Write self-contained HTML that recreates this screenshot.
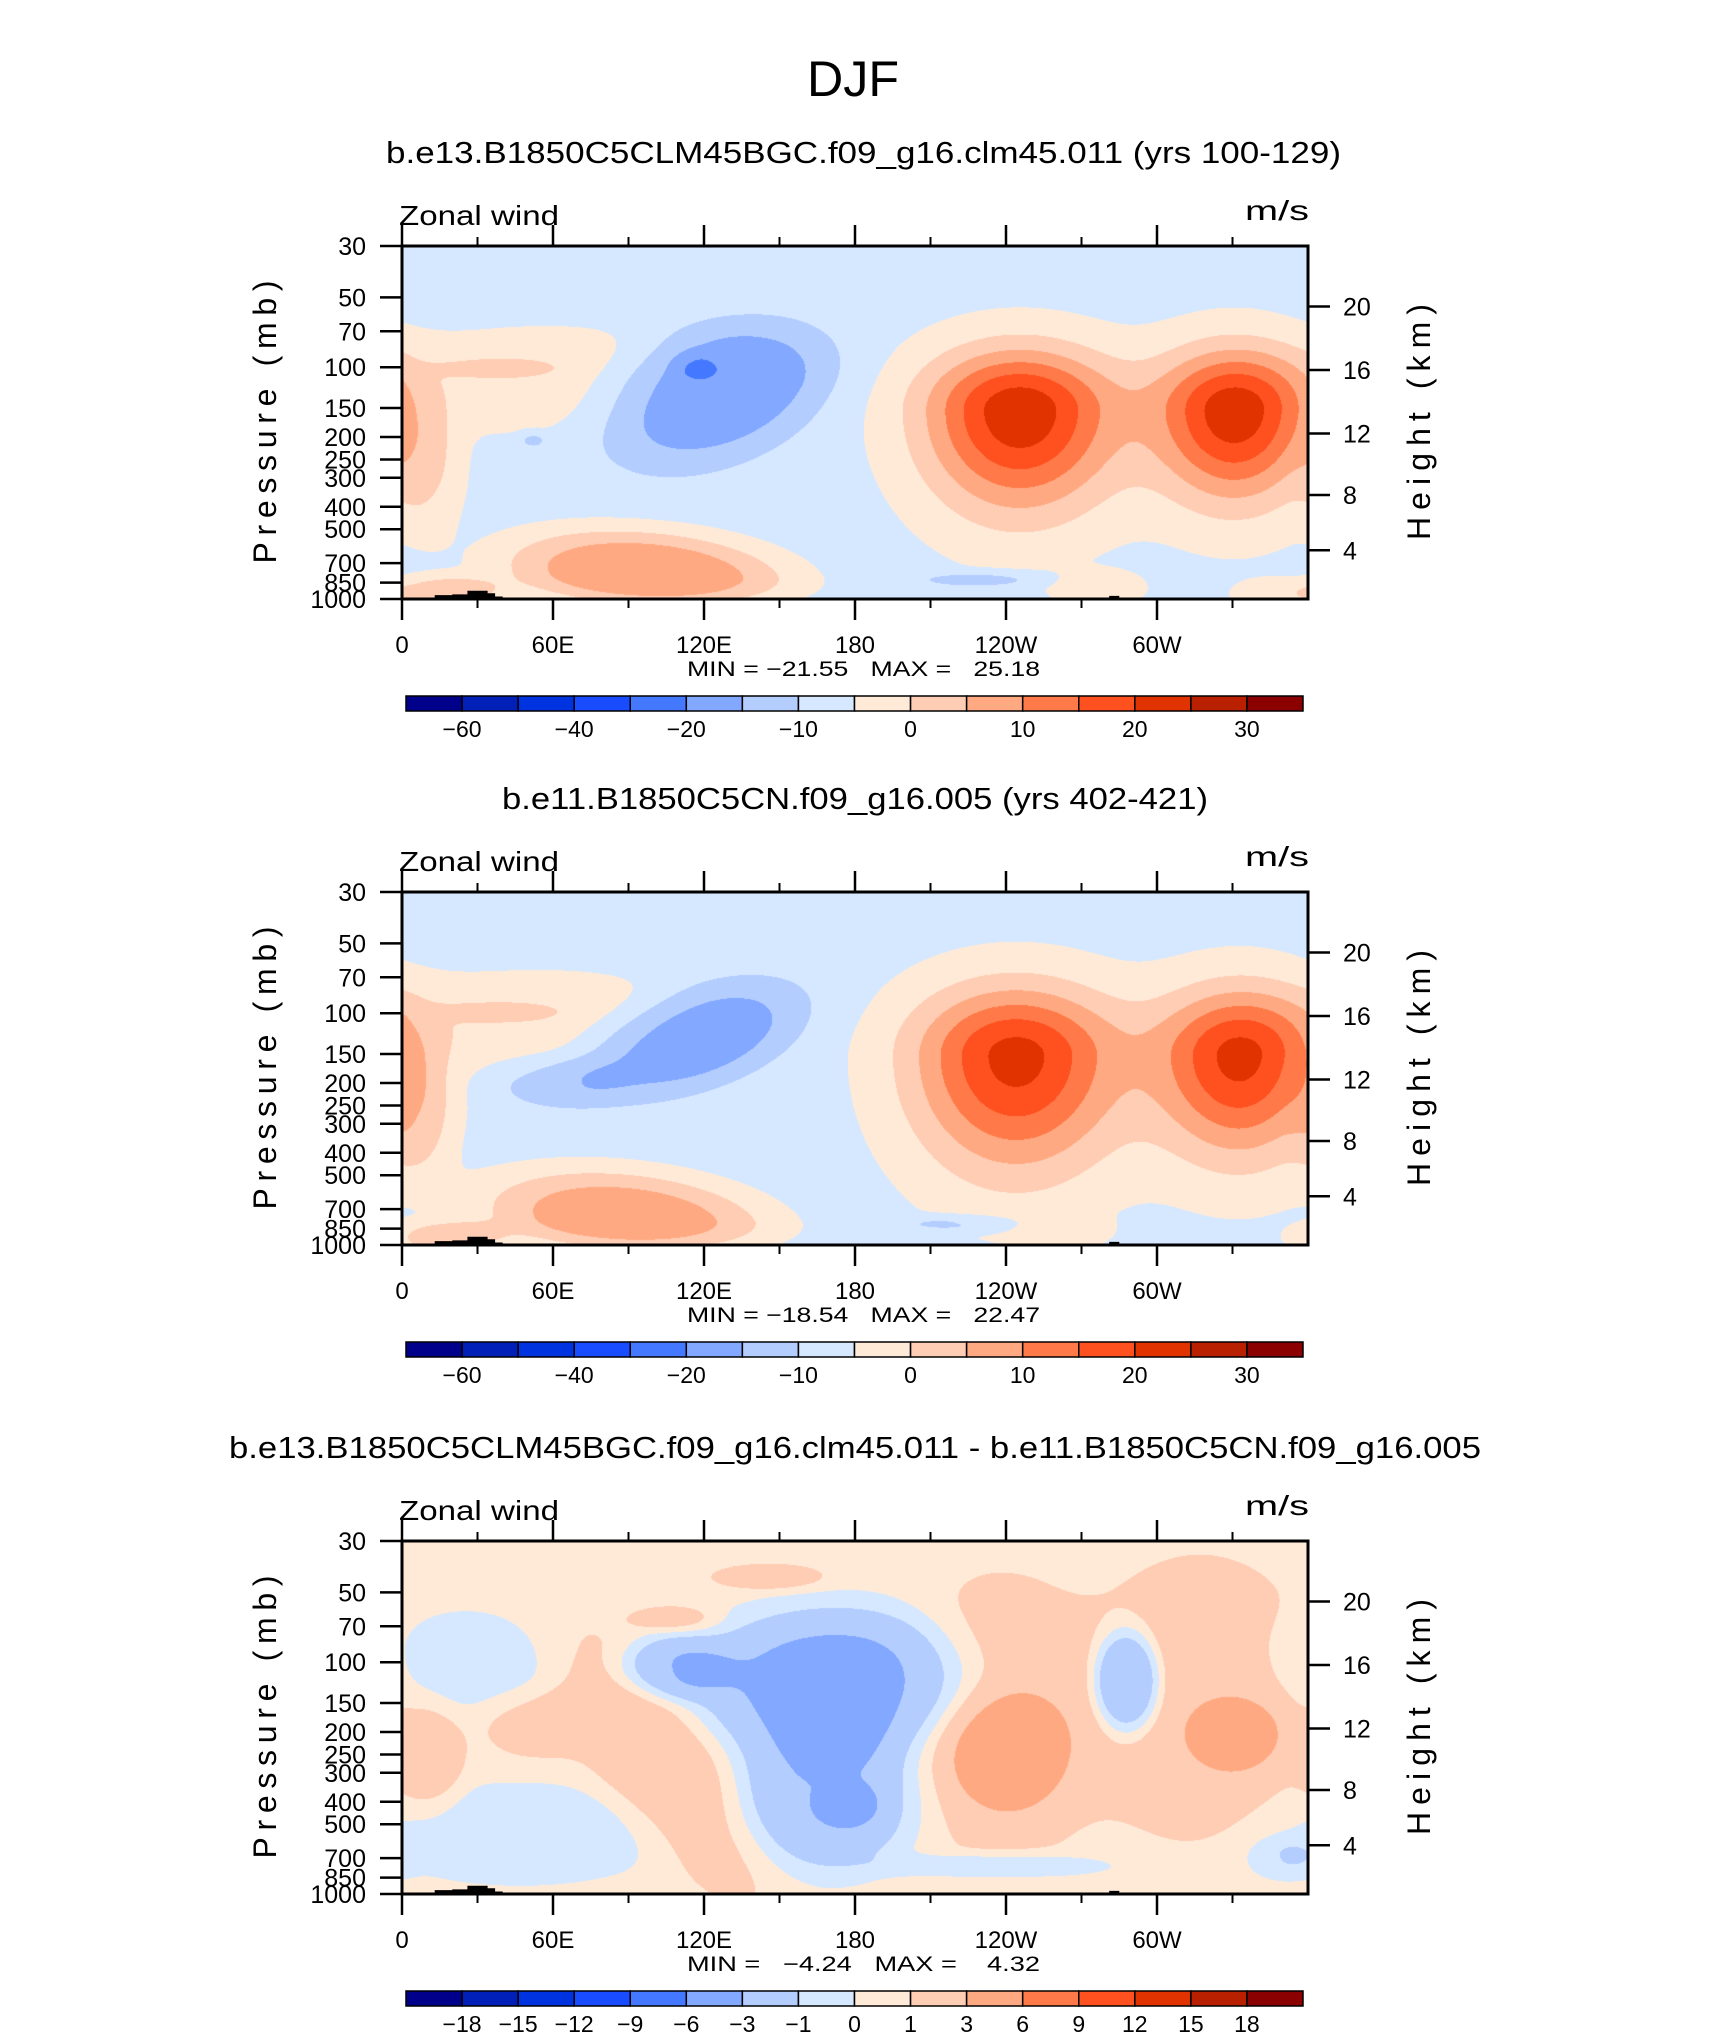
<!DOCTYPE html>
<html><head><meta charset="utf-8">
<style>
html,body{margin:0;padding:0;background:#fff;}
#wrap{position:relative;width:1710px;height:2038px;overflow:hidden;background:#fff;}
canvas{position:absolute;z-index:0;}
svg{position:absolute;left:0;top:0;z-index:1;}
text{font-family:"Liberation Sans",sans-serif;fill:#000;}
</style></head>
<body>
<div id="wrap">
<svg id="svg" width="1710" height="2038" xmlns="http://www.w3.org/2000/svg">
<text x="853" y="96" font-size="50" text-anchor="middle" textLength="92" lengthAdjust="spacingAndGlyphs">DJF</text>
</svg>
</div>
<script>
// ---------- data ----------
const levelsMain = [-60,-50,-40,-30,-20,-15,-10,-5,0,5,10,15,20,25,30];
const levelsDiff = [-18,-15,-12,-9,-6,-3,-1,0,1,3,6,9,12,15,18];
const labelsMain = ["-60","","-40","","-20","","-10","","0","","10","","20","","30"];
const labelsDiff = ["-18","-15","-12","-9","-6","-3","-1","0","1","3","6","9","12","15","18"];
const colors = ["#00008a","#0020b8","#0033e0","#1a4cff","#4479ff","#82a8ff","#b3cdff","#d6e8ff","#ffead8","#ffcdb4","#ffa982","#ff7a48","#ff5020","#e03300","#b82000","#8b0000"];
const pressureTicks = [30,50,70,100,150,200,250,300,400,500,700,850,1000];
const heightTicks = [4,8,12,16,20];
const lonMajor = [0,60,120,180,240,300];
const lonMajorLabels = ["0","60E","120E","180","120W","60W"];
const lonMinor = [30,90,150,210,270,330];
const topoLon = [0,8,8,13,13,20,20,26,26,34,34,37,37,40,40,112,112,177,177,281,281,285,285,311,311,360];
const topoP   = [1000,1000,985,985,962,962,955,955,922,922,945,945,975,975,1000,1000,988,988,1000,1000,970,970,988,988,1000,1000];

// panel 1 field features
const p1Base = -7;
const p1Lon  = [245.5,331,125,116,52,58,39,11,97,18,230,277,346];
const p1Pres = [154,154,120,100,206,102,101,293,782,932,825,900,966];
const p1Amp  = [31,30.5,-13.5,-3.5,-5,5,4,5,17,9,-5.5,6,4];
const p1SLon = [27,22,34,7,5,49,20,11,43,18,22,14,14];
const p1SUp  = [0.125,0.125,0.14,0.035,0.02,0.1,0.025,0.15,0.1,0.04,0.02,0.04,0.04];
const p1SDn  = [0.2,0.18,0.18,0.03,0.02,0.15,0.025,0.15,0.07,0.04,0.02,0.04,0.04];
const p1Tilt = [0,0,70,0,0,0,0,0,-100,0,0,0,0];
const p1Q    = [1,1,1.5,1.5,1.5,1.5,1.5,1.5,1.5,1.5,1.5,1.5,1.5];

// panel 2 field features
const p2Base = -7;
const p2Lon  = [244,333,114,60,55,40,8,89,18,221,263];
const p2Pres = [153,153,130,199,100,99,293,774,932,810,869];
const p2Amp  = [29,28.5,-12.5,-5,5,4,5,16,9,-5.5,4];
const p2SLon = [29,23,31,22,49,20,11,43,18,20,14];
const p2SUp  = [0.14,0.135,0.13,0.06,0.1,0.025,0.15,0.11,0.04,0.02,0.04];
const p2SDn  = [0.23,0.2,0.13,0.06,0.14,0.025,0.15,0.07,0.04,0.02,0.04];
const p2Tilt = [0,0,130,0,0,0,0,-100,0,0,0];
const p2Q    = [1,1,1.5,1.5,1.5,1.5,1.5,1.5,1.5,1.5,1.5];

// panel 3 (difference) field features
const p3Base = 0.5;
const p3Lon  = [173,169,108,22,47,101,54,11,288,241,238,331,317,146,108,238,350,178];
const p3Pres = [122,375,106,99,551,264,186,264,122,246,173,206,145,43,65,755,700,416];
const p3Amp  = [-4.7,-3.3,-3,-1.2,-1.25,1.8,1.2,1.5,-4.8,3.5,1.8,3.2,1.8,1.5,1.3,-1.5,-1.2,-1.6];
const p3SLon = [43,29,18,40,50,22,18,11,11,18,32,14,36,18,14,36,12,10];
const p3SUp  = [0.16,0.17,0.07,0.12,0.12,0.3,0.08,0.12,0.12,0.13,0.3,0.08,0.3,0.03,0.03,0.03,0.05,0.05];
const p3SDn  = [0.16,0.17,0.07,0.12,0.12,0.3,0.08,0.12,0.12,0.13,0.3,0.08,0.3,0.03,0.03,0.03,0.05,0.05];
const p3Tilt = [0,0,0,0,0,-86,0,0,0,0,0,0,0,0,0,0,0,0];
const p3Q    = [1.5,1.5,1.5,1.5,1.5,1.5,1.5,1.5,1.5,1.5,1.5,1.5,1.5,1.5,1.5,1.5,1.5,1.5];

const titles = ["b.e13.B1850C5CLM45BGC.f09_g16.clm45.011 (yrs 100-129)","b.e11.B1850C5CN.f09_g16.005 (yrs 402-421)","b.e13.B1850C5CLM45BGC.f09_g16.clm45.011 - b.e11.B1850C5CN.f09_g16.005"];
const minmax = ["MIN = \u221221.55   MAX =   25.18","MIN = \u221218.54   MAX =   22.47","MIN =   \u22124.24   MAX =    4.32"];

// ---------- layout ----------
const PL=402, PW=906, PH=353;
const tops=[246,892,1541];
const NS="http://www.w3.org/2000/svg";
const svg=document.getElementById('svg');
const wrap=document.getElementById('wrap');
const LOGR=Math.log(1000/30);
function yFrac(p){return Math.log(p/30)/LOGR;}
function xOf(lon){return PL+lon/360*PW;}
function stdP(hkm){const h=hkm*1000; if(h<=11000) return 1013.25*Math.pow(1-2.25577e-5*h,5.25588); return 226.32*Math.exp(-(h-11000)/6341.6);}
function mk(tag,attrs,parent){const e=document.createElementNS(NS,tag);for(const k in attrs)e.setAttribute(k,attrs[k]);(parent||svg).appendChild(e);return e;}

function fieldVal(X,Y,P){
  let v=P.base;
  for(let i=0;i<P.lon.length;i++){
    const yc=yFrac(P.pres[i]); const dy=Y-yc;
    let dx=X-P.lon[i]/360+P.tilt[i]/360*dy; dx-=Math.round(dx);
    const sx=P.sl[i]/360, sy=dy<0?P.su[i]:P.sd[i];
    const d2=(dx/sx)*(dx/sx)+(dy/sy)*(dy/sy);
    v+=P.amp[i]*Math.exp(-0.5*Math.pow(d2,P.q[i]));
  }
  return v;
}
function colorIdx(v,levels){let k=0;while(k<levels.length&&v>=levels[k])k++;return k;}
function hex(c){return [parseInt(c.substr(1,2),16),parseInt(c.substr(3,2),16),parseInt(c.substr(5,2),16)];}
const rgb=colors.map(hex);

const panels=[
 {base:p1Base,lon:p1Lon,pres:p1Pres,amp:p1Amp,sl:p1SLon,su:p1SUp,sd:p1SDn,tilt:p1Tilt,q:p1Q,levels:levelsMain,labels:labelsMain},
 {base:p2Base,lon:p2Lon,pres:p2Pres,amp:p2Amp,sl:p2SLon,su:p2SUp,sd:p2SDn,tilt:p2Tilt,q:p2Q,levels:levelsMain,labels:labelsMain},
 {base:p3Base,lon:p3Lon,pres:p3Pres,amp:p3Amp,sl:p3SLon,su:p3SUp,sd:p3SDn,tilt:p3Tilt,q:p3Q,levels:levelsDiff,labels:labelsDiff}
];

panels.forEach((P,pi)=>{
  const T=tops[pi], off=T-246;
  const cv=document.createElement('canvas');
  cv.width=PW;cv.height=PH;cv.style.left=PL+'px';cv.style.top=T+'px';
  
  
  wrap.appendChild(cv);
  const ctx=cv.getContext('2d');const img=ctx.createImageData(PW,PH);
  for(let py=0;py<PH;py++){const Y=(py+0.5)/PH;
    for(let px=0;px<PW;px++){const X=(px+0.5)/PW;
      const v=fieldVal(X,Y,P);
      const c=rgb[colorIdx(v,P.levels)];const o=(py*PW+px)*4;
      img.data[o]=c[0];img.data[o+1]=c[1];img.data[o+2]=c[2];img.data[o+3]=255;}}
  ctx.putImageData(img,0,0);

  const g=mk('g',{});
  
  

  let d='';
  for(let i=0;i<topoLon.length;i++){d+=(i?'L':'M')+xOf(topoLon[i]).toFixed(1)+' '+(T+yFrac(topoP[i])*PH).toFixed(1);}
  const topo=mk('path',{d:d+'Z',fill:'#000'},g);
  
  

  const fr=mk('rect',{x:PL,y:T,width:PW,height:PH,fill:'none',stroke:'#000','stroke-width':3},g);
  
  

  lonMajor.forEach((lon,i)=>{
    const x=xOf(lon);
    const t1=mk('line',{x1:x,x2:x,y1:T,y2:T-21,stroke:'#000','stroke-width':2.5},g);
    
    
    const t2=mk('line',{x1:x,x2:x,y1:T+PH,y2:T+PH+21,stroke:'#000','stroke-width':2.5},g);
    
    
    const tl=mk('text',{x:x,y:T+407,'font-size':24,'text-anchor':'middle'},g);
    tl.textContent=lonMajorLabels[i];
    
    
  });
  lonMinor.forEach(lon=>{
    const x=xOf(lon);
    const t1=mk('line',{x1:x,x2:x,y1:T,y2:T-9,stroke:'#000','stroke-width':2},g);
    
    
    const t2=mk('line',{x1:x,x2:x,y1:T+PH,y2:T+PH+9,stroke:'#000','stroke-width':2},g);
    
    
  });
  pressureTicks.forEach(p=>{
    const y=T+yFrac(p)*PH;
    const t=mk('line',{x1:PL,x2:PL-22,y1:y,y2:y,stroke:'#000','stroke-width':2.5},g);
    
    
    const l=mk('text',{x:366,y:y+9,'font-size':25,'text-anchor':'end'},g);
    l.textContent=String(p);
    
    
  });
  heightTicks.forEach(h=>{
    const y=T+yFrac(stdP(h))*PH;
    const t=mk('line',{x1:PL+PW,x2:PL+PW+22,y1:y,y2:y,stroke:'#000','stroke-width':2.5},g);
    
    
    const l=mk('text',{x:1343,y:y+9,'font-size':25},g);
    l.textContent=String(h);
    
    
  });

  const tt=mk('text',{y:163+off,'font-size':31},g);
  if(pi===0){tt.setAttribute('x',386);tt.setAttribute('textLength',955);}
  if(pi===1){tt.setAttribute('x',502);tt.setAttribute('textLength',706);}
  if(pi===2){tt.setAttribute('x',229);tt.setAttribute('textLength',1252);}
  tt.setAttribute('lengthAdjust','spacingAndGlyphs');
  tt.textContent=titles[pi];
  
  

  const zw=mk('text',{x:399,y:225+off,'font-size':28,textLength:160,lengthAdjust:'spacingAndGlyphs'},g);
  zw.textContent='Zonal wind';
  
  
  const un=mk('text',{x:1245,y:220+off,'font-size':28,textLength:64,lengthAdjust:'spacingAndGlyphs'},g);
  un.textContent='m/s';
  
  

  const pl=mk('text',{x:0,y:0,'font-size':32,'text-anchor':'middle',textLength:283,lengthAdjust:'spacing',transform:'translate(276,'+(422+off)+') rotate(-90)'},g);
  pl.textContent='Pressure (mb)';
  
  
  const hl=mk('text',{x:0,y:0,'font-size':32,'text-anchor':'middle',textLength:236,lengthAdjust:'spacing',transform:'translate(1430,'+(422+off)+') rotate(-90)'},g);
  hl.textContent='Height (km)';
  
  

  const mm=mk('text',{x:687,y:676+off,'font-size':21,textLength:353,lengthAdjust:'spacingAndGlyphs','xml:space':'preserve'},g);
  mm.style.whiteSpace='pre';
  mm.textContent=minmax[pi];
  
  

  const cbL=406, cbW=897, cbT=696+off, cbH=15, bw=cbW/16;
  const cb=mk('g',{},g);
  
  
  colors.forEach((c,i)=>{
    const r=mk('rect',{x:cbL+i*bw,y:cbT,width:bw,height:cbH,fill:c,stroke:'#000','stroke-width':1.5},cb);
    
    
  });
  P.labels.forEach((lab,i)=>{
    if(!lab)return;
    const t=mk('text',{x:cbL+(i+1)*bw,y:cbT+41,'font-size':23,'text-anchor':'middle'},cb);
    t.textContent=lab.replace('-','\u2212');
    
    
  });
});
</script>
</body></html>
